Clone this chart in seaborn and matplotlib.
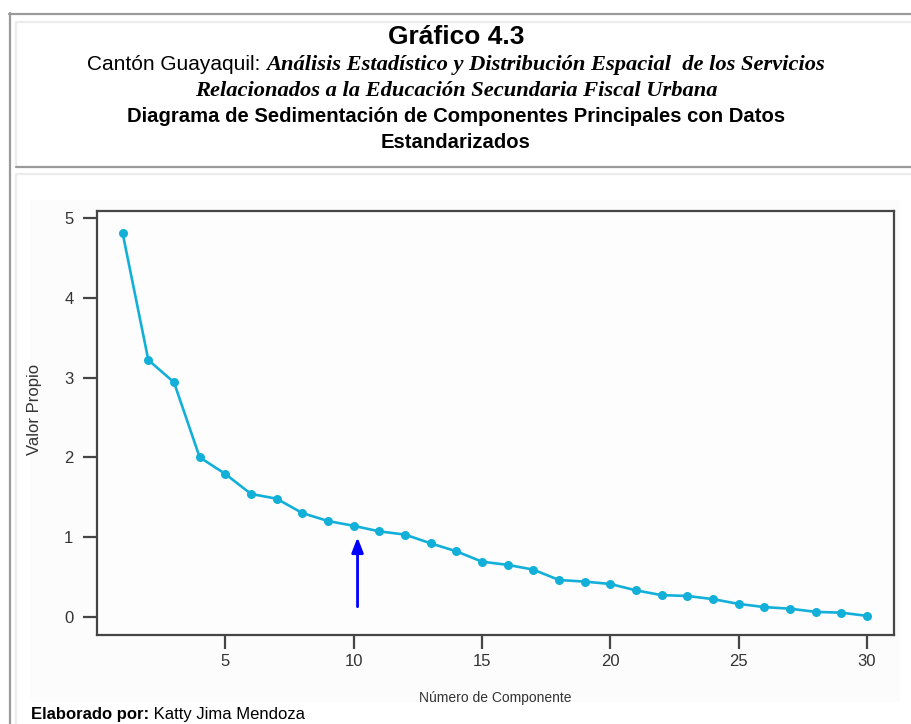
import matplotlib
matplotlib.use("Agg")
import matplotlib.pyplot as plt
import seaborn as sns
from matplotlib.lines import Line2D
from matplotlib.patches import Rectangle

# Datos del gráfico de sedimentación (valores propios)
componentes = list(range(1, 31))
valores_propios = [4.81, 3.22, 2.94, 2.00, 1.79, 1.54, 1.48, 1.30, 1.20, 1.14,
                   1.07, 1.03, 0.92, 0.82, 0.69, 0.65, 0.59, 0.46, 0.44, 0.41,
                   0.33, 0.27, 0.26, 0.22, 0.16, 0.12, 0.10, 0.06, 0.05, 0.01]
x_ticks = [5, 10, 15, 20, 25, 30]
y_ticks = [0, 1, 2, 3, 4, 5]
flecha_x = 10.15
flecha_y = (0.09, 1.03)

titulo = "Gráfico 4.3"
sub_normal = "Cantón Guayaquil: "
sub_italica = "Análisis Estadístico y Distribución Espacial  de los Servicios"
sub_italica2 = "Relacionados a la Educación Secundaria Fiscal Urbana"
linea4 = "Diagrama de Sedimentación de Componentes Principales con Datos"
linea5 = "Estandarizados"

sns.set_style("white")
plt.rcParams["font.family"] = ["Liberation Sans", "DejaVu Sans"]
plt.rcParams["text.color"] = "black"

W, H = 912, 724
fig = plt.figure(figsize=(W / 100, H / 100), dpi=100)
fig.patch.set_facecolor("white")


def fx(x):
    return x / W


def fy(y):
    return 1 - y / H


def hline(y, x0, x1, color, lw):
    fig.add_artist(Line2D([fx(x0), fx(x1)], [fy(y), fy(y)], color=color, lw=lw,
                          transform=fig.transFigure))


def vline(x, y0, y1, color, lw):
    fig.add_artist(Line2D([fx(x), fx(x)], [fy(y0), fy(y1)], color=color, lw=lw,
                          transform=fig.transFigure))


# Bordes de la tabla
gris = "#9a9a9a"
claro = "#ececec"
hline(13.5, 9, W, gris, 1.6)
vline(10, 13, H, gris, 1.6)
hline(22, 16, W, claro, 1.6)
vline(16, 22, 166, claro, 1.6)
hline(167, 16, W, gris, 1.6)
hline(174, 16, W, claro, 1.6)
vline(16, 174, H, claro, 1.6)

# Fondo de la imagen del gráfico
fig.add_artist(Rectangle((fx(30), fy(702)), fx(900) - fx(30), fy(200) - fy(702),
                         transform=fig.transFigure, facecolor="#fcfcfc",
                         edgecolor="none", zorder=0))

# Encabezado
cx = 456
fig.text(fx(cx), fy(37), titulo, ha="center", va="center", fontsize=19,
         fontweight="bold")

t1 = fig.text(0, fy(65), sub_normal, ha="left", va="center", fontsize=15)
t2 = fig.text(0, fy(65), sub_italica, ha="left", va="center", fontsize=16.2,
              family="Liberation Serif", style="italic", fontweight="bold")
fig.canvas.draw()
r = fig.canvas.get_renderer()
w1 = t1.get_window_extent(r).width
w2 = t2.get_window_extent(r).width
x0 = cx - (w1 + w2) / 2
t1.set_x(fx(x0))
t2.set_x(fx(x0 + w1))

fig.text(fx(cx), fy(91), sub_italica2, ha="center", va="center", fontsize=16.2,
         family="Liberation Serif", style="italic", fontweight="bold")
fig.text(fx(cx), fy(117), linea4, ha="center", va="center", fontsize=14.6,
         fontweight="bold")
fig.text(fx(cx), fy(142), linea5, ha="center", va="center", fontsize=14.6,
         fontweight="bold")

# Gráfico de sedimentación
ax = fig.add_axes([fx(97), fy(635), fx(894) - fx(97), fy(211) - fy(635)])
ax.set_facecolor("#fdfdfd")
sns.lineplot(x=componentes, y=valores_propios, ax=ax, color="#12b0d8",
             linewidth=1.9, marker="o", markersize=6.5, markeredgewidth=0)

ax.annotate("", xy=(flecha_x, flecha_y[1]), xytext=(flecha_x, flecha_y[0]),
            arrowprops=dict(arrowstyle="-|>,head_length=0.9,head_width=0.35",
                            color="#0000ff", lw=2))

ax.set_xlim(0, 31.05)
ax.set_ylim(-0.23, 5.09)
ax.set_xticks(x_ticks)
ax.set_yticks(y_ticks)
for s in ax.spines.values():
    s.set_color("#454545")
    s.set_linewidth(1.6)
ax.tick_params(axis="both", direction="out", length=10, width=1.6,
               color="#454545", labelcolor="#333333", labelsize=12,
               left=True, bottom=True)
ax.tick_params(axis="y", pad=7)
ax.tick_params(axis="x", pad=4)
ax.set_xlabel("Número de Componente", fontsize=10, color="#333333")
ax.set_ylabel("Valor Propio", fontsize=12, color="#333333")
ax.xaxis.set_label_coords(0.5, -0.132)
ax.yaxis.set_label_coords(-0.069, 0.533)

# Pie
p1 = fig.text(fx(31), fy(714), "Elaborado por:", ha="left", va="center",
              fontsize=12, fontweight="bold")
fig.canvas.draw()
wp = p1.get_window_extent(fig.canvas.get_renderer()).width
fig.text(fx(31) + wp / W, fy(714), " Katty Jima Mendoza", ha="left",
         va="center", fontsize=12)

fig.savefig("out.png", dpi=100)
